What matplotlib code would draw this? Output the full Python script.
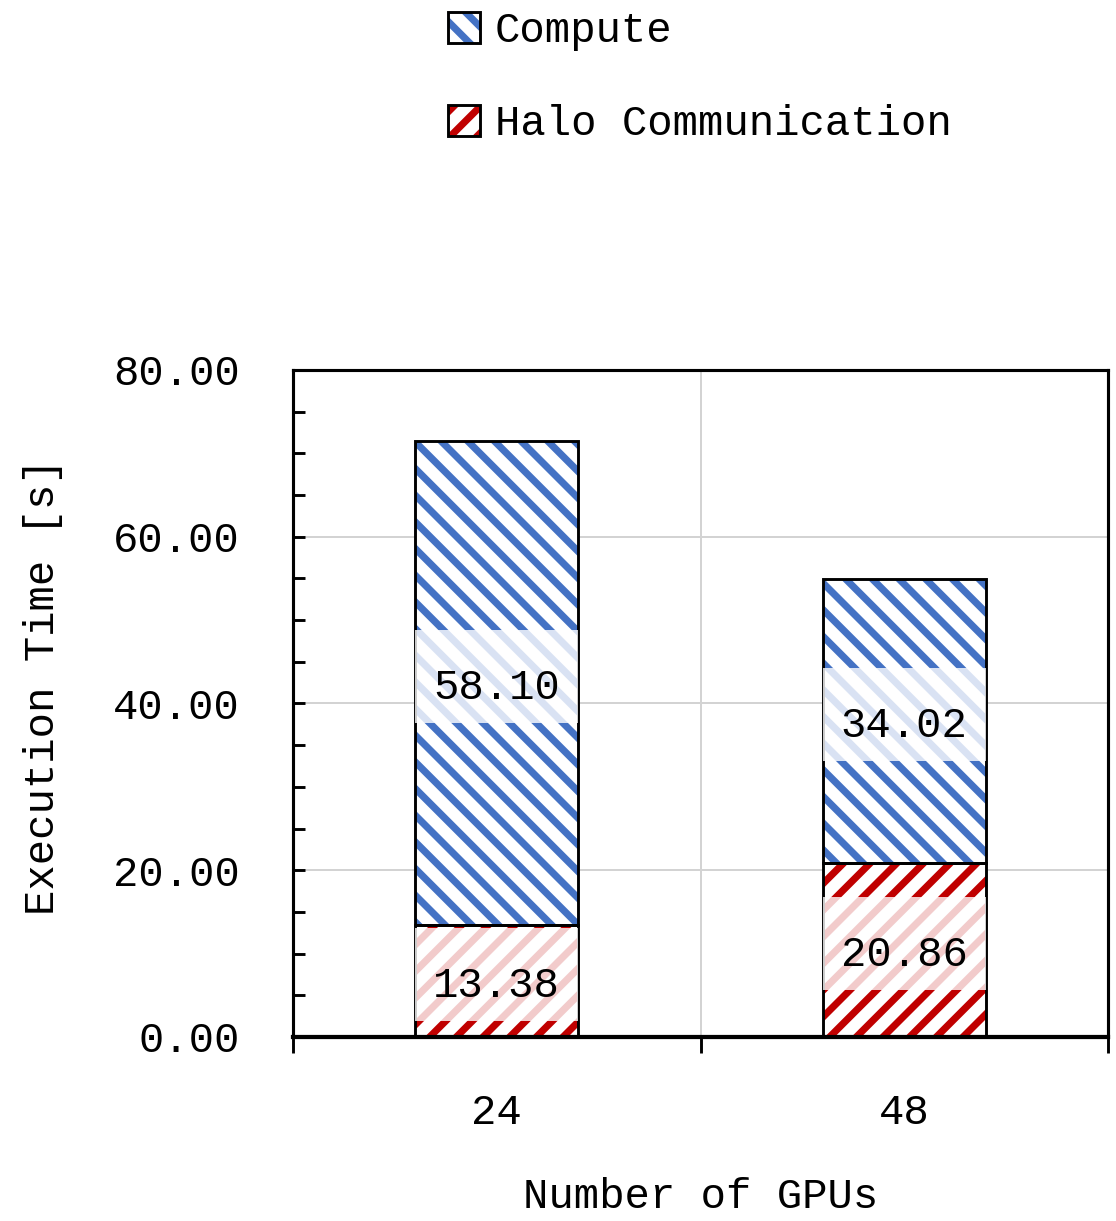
import matplotlib
matplotlib.use("Agg")
import matplotlib.pyplot as plt
from matplotlib.patches import Patch
from matplotlib.legend_handler import HandlerTuple
from matplotlib.ticker import MultipleLocator, FixedLocator, NullFormatter, FixedFormatter
import numpy as np

# Data
gpus = ["24", "48"]
halo = [13.38, 20.86]
compute = [58.10, 34.02]
series_names = ["Compute", "Halo Communication"]

blue = "#4472C4"
red = "#C00000"

plt.rcParams["font.family"] = ["Liberation Mono", "DejaVu Sans Mono"]
plt.rcParams["hatch.linewidth"] = 3.2
FS = 19

fig = plt.figure(figsize=(1116 / 160, 1221 / 160), dpi=160)
ax = fig.add_axes([293 / 1116, 1 - 1037 / 1221, (1108 - 293) / 1116, (1037 - 370) / 1221])

x = np.arange(len(gpus))
width = 0.4

# Hatched fills (hatch colour taken from edgecolor), then black outlines
h_fill = ax.bar(x, halo, width, facecolor="white", edgecolor=red, hatch="//", linewidth=0, zorder=2)
c_fill = ax.bar(x, compute, width, bottom=halo, facecolor="white", edgecolor=blue, hatch="\\\\", linewidth=0, zorder=2)
ax.bar(x, halo, width, fill=False, edgecolor="black", linewidth=1.3, zorder=3)
ax.bar(x, compute, width, bottom=halo, fill=False, edgecolor="black", linewidth=1.3, zorder=3)

# Value labels in the middle of each segment, on a translucent band kept inside the bar
for fills, vals, bases in ((h_fill, halo, [0.0] * len(halo)), (c_fill, compute, halo)):
    for rect, val, base in zip(fills.patches, vals, bases):
        xc = rect.get_x() + rect.get_width() / 2
        yc = base + val / 2
        label = f"{val:.2f}"
        # blank string of the same width only sizes the band behind the label
        band = ax.annotate(" " * len(label), (xc, yc), xytext=(0, 3), textcoords="offset points",
                           ha="center", va="center", fontsize=FS, zorder=4,
                           bbox=dict(boxstyle="square,pad=0.62", facecolor="white",
                                     edgecolor="none", alpha=0.8))
        band.set_clip_path(rect)
        ax.text(xc, yc, label, ha="center", va="center_baseline", fontsize=FS, zorder=5)

ax.set_xlim(-0.5, 1.5)
ax.set_ylim(0, 80)

# y axis: ticks inward, minor every 5
ax.yaxis.set_major_locator(MultipleLocator(20))
ax.yaxis.set_minor_locator(MultipleLocator(5))
ax.yaxis.set_major_formatter(plt.FuncFormatter(lambda v, p: f"{v:.2f}"))
ax.tick_params(axis="y", which="both", direction="in", length=5.5, width=1.3, labelsize=FS, pad=24)

# x axis: boundary ticks outward, category labels in between
ax.xaxis.set_major_locator(FixedLocator([-0.5, 0.5, 1.5]))
ax.xaxis.set_major_formatter(NullFormatter())
ax.xaxis.set_minor_locator(FixedLocator(x))
ax.xaxis.set_minor_formatter(FixedFormatter(gpus))
ax.tick_params(axis="x", which="major", direction="out", length=7, width=1.3)
ax.tick_params(axis="x", which="minor", length=0, labelsize=FS, pad=25)

ax.grid(True, which="major", color="#d3d3d3", linewidth=0.9)
ax.set_axisbelow(True)

for side in ("left", "top", "right"):
    ax.spines[side].set_linewidth(1.4)
    ax.spines[side].set_color("black")
ax.spines["bottom"].set_linewidth(1.9)

ax.set_ylabel("Execution Time [s]", fontsize=FS)
ax.yaxis.set_label_coords(-(293 - 63) / 815, 0.525)
ax.set_xlabel("Number of GPUs", fontsize=FS, labelpad=20)

# Legend with hatched swatches and black borders
comp_handle = (Patch(facecolor="white", edgecolor=blue, hatch="\\\\", linewidth=0),
               Patch(fill=False, edgecolor="black", linewidth=1.3))
halo_handle = (Patch(facecolor="white", edgecolor=red, hatch="//", linewidth=0),
               Patch(fill=False, edgecolor="black", linewidth=1.3))
fig.legend([comp_handle, halo_handle], series_names,
           handler_map={tuple: HandlerTuple(ndivide=1)},
           loc="upper left", bbox_to_anchor=(440 / 1116, 1 - 3 / 1221),
           frameon=False, fontsize=FS, handlelength=0.75, handleheight=0.75,
           handletextpad=0.35, labelspacing=1.25, borderaxespad=0.0, borderpad=0.2)

fig.savefig("out.png", dpi=160)
